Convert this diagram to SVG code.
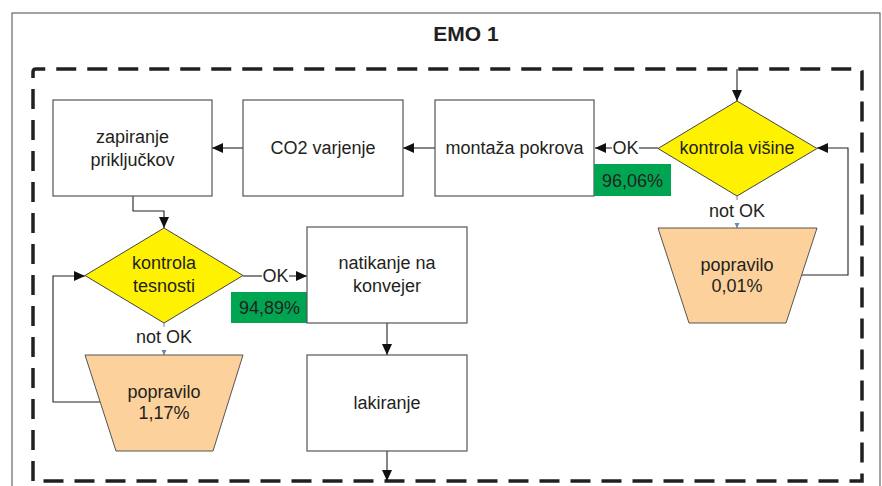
<svg xmlns="http://www.w3.org/2000/svg" width="882" height="486" viewBox="0 0 882 486">
<defs>
<style>
.t{font-family:"Liberation Sans",Arial,sans-serif;font-size:18px;fill:#231F20;text-anchor:middle}
.box{fill:#fff;stroke:#555;stroke-width:1.2}
.dia{fill:#FFF200;stroke:#444;stroke-width:1}
.trap{fill:#FCD19C;stroke:#555;stroke-width:1}
.pct{fill:#00A551}
.c{fill:none;stroke:#222;stroke-width:1.1}
.cb{fill:none;stroke:#6F86A8;stroke-width:1}
</style>
<marker id="ah" markerUnits="userSpaceOnUse" markerWidth="12" markerHeight="10" refX="11" refY="5" orient="auto">
<path d="M0,0 L11,5 L0,10 Z" fill="#111"/>
</marker>
<marker id="ahs" markerUnits="userSpaceOnUse" markerWidth="6" markerHeight="6" refX="5" refY="3" orient="auto">
<path d="M0,0.5 L5,3 L0,5.5 Z" fill="#6F86A8"/>
</marker>
</defs>
<rect width="882" height="486" fill="#fff"/>
<rect x="12" y="13" width="868" height="500" fill="none" stroke="#666" stroke-width="1.2"/>
<text x="466" y="41" style="font-family:'Liberation Sans',Arial,sans-serif;font-size:21px;font-weight:bold;fill:#231F20;text-anchor:middle">EMO 1</text>
<path d="M33,481 L33,72 Q33,69 36,69 L859,69 Q862,69 862,72 L862,481 L36,481" fill="none" stroke="#231F20" stroke-width="3.5" stroke-dasharray="20 11"/>

<g id="connectors">
<path class="c" d="M737,69 L737,101" marker-end="url(#ah)"/>
<path class="c" d="M658,148 L639,148"/>
<path class="c" d="M612,148 L595,148" marker-end="url(#ah)"/>
<path class="c" d="M435,148 L403,148" marker-end="url(#ah)"/>
<path class="c" d="M243,148 L212,148" marker-end="url(#ah)"/>
<path class="c" d="M133,196 L133,211 L164,211 L164,228" marker-end="url(#ah)"/>
<path class="c" d="M243,276 L262,276"/>
<path class="c" d="M289,276 L307,276" marker-end="url(#ah)"/>
<path class="c" d="M387,323 L387,355" marker-end="url(#ah)"/>
<path class="c" d="M387,451 L387,481" marker-end="url(#ah)"/>
<path class="c" d="M802,275 L848,275 L848,148 L817,148" marker-end="url(#ah)"/>
<path class="c" d="M100,402 L53,402 L53,276 L85,276" marker-end="url(#ah)"/>
<path class="cb" d="M737,196 L737,200"/>
<path class="cb" d="M737,223 L737,228" marker-end="url(#ahs)"/>
<path class="cb" d="M164,323 L164,327"/>
<path class="cb" d="M164,350 L164,355" marker-end="url(#ahs)"/>
</g>

<g id="zapiranje">
<rect class="box" x="53" y="100" width="159" height="96"/>
<text class="t" x="132.5" y="143">zapiranje</text>
<text class="t" x="132.5" y="166">priključkov</text>
</g>
<g id="co2">
<rect class="box" x="243" y="100" width="160" height="96"/>
<text class="t" x="323" y="154">CO2 varjenje</text>
</g>
<g id="montaza">
<rect class="box" x="435" y="100" width="159" height="96"/>
<text class="t" x="514.5" y="154">montaža pokrova</text>
</g>
<g id="kontrola-visine">
<polygon class="dia" points="737,101 817,148.5 737,196 658,148.5"/>
<text class="t" x="737" y="154">kontrola višine</text>
</g>
<g id="ok1">
<text class="t" x="625.5" y="154">OK</text>
</g>
<g id="pct1">
<rect class="pct" x="594" y="164" width="77" height="32"/>
<text class="t" x="632.5" y="187">96,06%</text>
</g>
<g id="notok1">
<text class="t" x="737" y="217">not OK</text>
</g>
<g id="popravilo1">
<polygon class="trap" points="658,228 817,228 786,323 689,323"/>
<text class="t" x="737" y="271">popravilo</text>
<text class="t" x="737" y="292">0,01%</text>
</g>
<g id="kontrola-tesnosti">
<polygon class="dia" points="164,228 243,275.5 164,323 85,275.5"/>
<text class="t" x="164" y="269">kontrola</text>
<text class="t" x="164" y="292">tesnosti</text>
</g>
<g id="ok2">
<text class="t" x="275.5" y="282">OK</text>
</g>
<g id="pct2">
<rect class="pct" x="231" y="292" width="77" height="31"/>
<text class="t" x="269.5" y="314">94,89%</text>
</g>
<g id="natikanje">
<rect class="box" x="307" y="227" width="160" height="96"/>
<text class="t" x="387" y="269">natikanje na</text>
<text class="t" x="387" y="292">konvejer</text>
</g>
<g id="notok2">
<text class="t" x="164" y="343">not OK</text>
</g>
<g id="popravilo2">
<polygon class="trap" points="85,355 243,355 213,451 116,451"/>
<text class="t" x="164" y="398">popravilo</text>
<text class="t" x="164" y="419">1,17%</text>
</g>
<g id="lakiranje">
<rect class="box" x="307" y="355" width="160" height="96"/>
<text class="t" x="387" y="409">lakiranje</text>
</g>
</svg>
